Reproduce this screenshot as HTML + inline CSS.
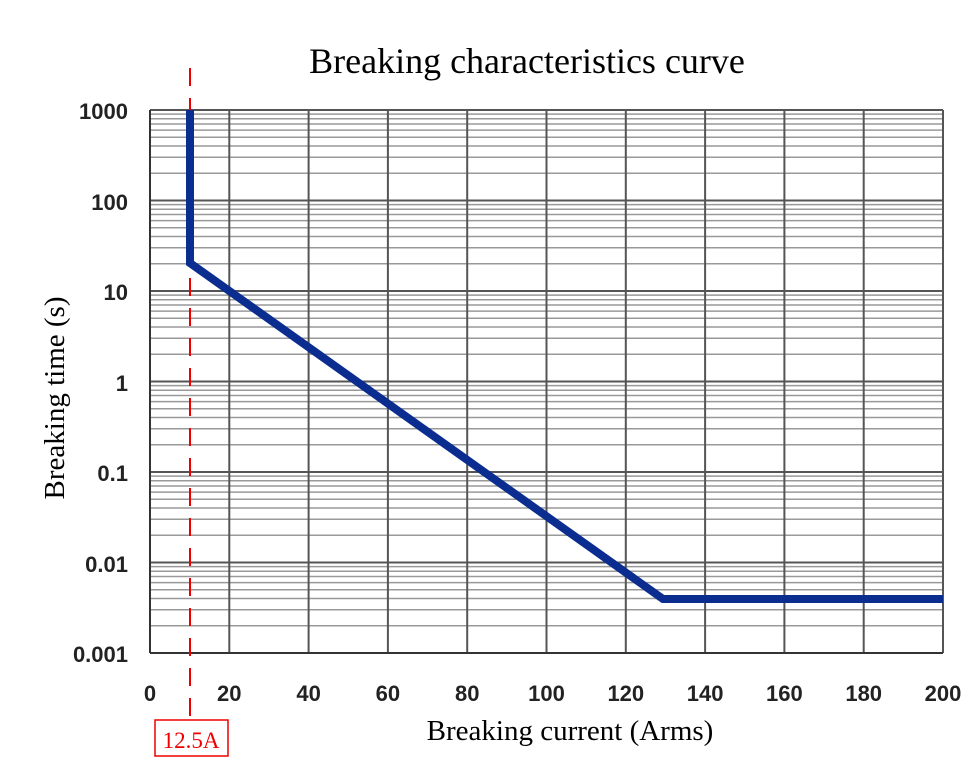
<!DOCTYPE html>
<html><head><style>body{margin:0;background:#fff}</style></head><body>
<svg width="968" height="758" xmlns="http://www.w3.org/2000/svg">
<defs>
<g id="dec" stroke="#999" stroke-width="1.5">
<line x1="150" x2="943" y1="-27.2" y2="-27.2"/>
<line x1="150" x2="943" y1="-43.2" y2="-43.2"/>
<line x1="150" x2="943" y1="-54.5" y2="-54.5"/>
<line x1="150" x2="943" y1="-63.3" y2="-63.3"/>
<line x1="150" x2="943" y1="-70.4" y2="-70.4"/>
<line x1="150" x2="943" y1="-76.5" y2="-76.5"/>
<line x1="150" x2="943" y1="-81.7" y2="-81.7"/>
<line x1="150" x2="943" y1="-86.4" y2="-86.4"/>
<line x1="150" x2="943" y1="-90.5" y2="-90.5" stroke="#555" stroke-width="2"/>
</g>
</defs>
<rect width="968" height="758" fill="#fff"/>
<text x="527" y="73" font-family="Liberation Serif" font-size="36" text-anchor="middle">Breaking characteristics curve</text>
<use href="#dec" transform="translate(0,653)"/>
<use href="#dec" transform="translate(0,562.5)"/>
<use href="#dec" transform="translate(0,472)"/>
<use href="#dec" transform="translate(0,381.5)"/>
<use href="#dec" transform="translate(0,291)"/>
<use href="#dec" transform="translate(0,200.5)"/>
<g stroke="#555" stroke-width="2">
<line x1="229.3" x2="229.3" y1="110" y2="653"/>
<line x1="308.6" x2="308.6" y1="110" y2="653"/>
<line x1="387.9" x2="387.9" y1="110" y2="653"/>
<line x1="467.2" x2="467.2" y1="110" y2="653"/>
<line x1="546.5" x2="546.5" y1="110" y2="653"/>
<line x1="625.8" x2="625.8" y1="110" y2="653"/>
<line x1="705.1" x2="705.1" y1="110" y2="653"/>
<line x1="784.4" x2="784.4" y1="110" y2="653"/>
<line x1="863.7" x2="863.7" y1="110" y2="653"/>
<line x1="943" x2="943" y1="110" y2="653"/>
</g>
<g stroke="#333" stroke-width="2">
<line x1="150" y1="110" x2="150" y2="653"/>
<line x1="150" y1="653" x2="943" y2="653"/>
</g>
<line x1="190" y1="68" x2="190" y2="722" stroke="#e00" stroke-width="2" stroke-dasharray="18,12"/>
<polyline points="190,110 190,263 663,599 943,599" fill="none" stroke="#0b2d8f" stroke-width="8" stroke-linejoin="miter"/>
<g font-family="Liberation Sans" font-size="22" font-weight="bold" fill="#222" text-anchor="end">
<text x="128" y="119">1000</text><text x="128" y="210">100</text><text x="128" y="300">10</text><text x="128" y="391">1</text><text x="128" y="481">0.1</text><text x="128" y="572">0.01</text><text x="128" y="662">0.001</text>
</g>
<g font-family="Liberation Sans" font-size="22" font-weight="bold" fill="#222" text-anchor="middle">
<text x="150" y="701">0</text><text x="229.3" y="701">20</text><text x="308.6" y="701">40</text><text x="387.9" y="701">60</text><text x="467.2" y="701">80</text><text x="546.5" y="701">100</text><text x="625.8" y="701">120</text><text x="705.1" y="701">140</text><text x="784.4" y="701">160</text><text x="863.7" y="701">180</text><text x="943" y="701">200</text>
</g>
<text x="570" y="740" font-family="Liberation Serif" font-size="29" text-anchor="middle">Breaking current (Arms)</text>
<text transform="translate(64,398) rotate(-90)" font-family="Liberation Serif" font-size="29" text-anchor="middle">Breaking time (s)</text>
<rect x="155" y="720" width="73" height="36" fill="#fff" stroke="#e00" stroke-width="1.5"/>
<text x="191" y="748" font-family="Liberation Serif" font-size="23" fill="#e00" text-anchor="middle">12.5A</text>
</svg>
</body></html>
